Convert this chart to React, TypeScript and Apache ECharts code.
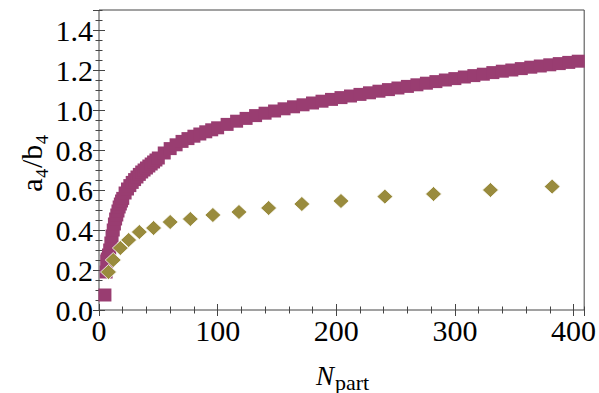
import React, { useEffect, useRef } from "react";
import * as echarts from "echarts";

// Purple squares (dense curve)
const purpleX = [5, 6, 6.5, 7, 8, 9, 10, 11, 12, 13, 14, 15, 16, 17, 18, 19, 20, 22, 24, 26, 28, 30, 32, 34, 36, 38, 40, 42, 44, 46, 48, 50, 55, 60, 65, 70, 75, 80, 85, 90, 95, 100, 108, 116, 124, 132, 140, 148, 156, 164, 172, 180, 188, 196, 204, 212, 220, 228, 236, 244, 252, 260, 268, 276, 284, 292, 300, 308, 316, 324, 332, 340, 348, 356, 364, 372, 380, 388, 396, 404];
const purpleY = [0.075, 0.19, 0.245, 0.255, 0.275, 0.3, 0.335, 0.37, 0.4, 0.43, 0.455, 0.475, 0.495, 0.515, 0.53, 0.545, 0.558, 0.585, 0.605, 0.622, 0.638, 0.652, 0.665, 0.678, 0.69, 0.7, 0.71, 0.72, 0.73, 0.74, 0.75, 0.76, 0.785, 0.807, 0.826, 0.843, 0.857, 0.869, 0.88, 0.891, 0.901, 0.911, 0.928, 0.944, 0.958, 0.972, 0.984, 0.995, 1.006, 1.016, 1.026, 1.035, 1.044, 1.053, 1.062, 1.07, 1.078, 1.086, 1.094, 1.102, 1.11, 1.118, 1.126, 1.134, 1.142, 1.15, 1.157, 1.165, 1.172, 1.179, 1.187, 1.194, 1.2, 1.207, 1.214, 1.22, 1.226, 1.232, 1.238, 1.244];

// Olive diamonds
const oliveX = [8, 12, 18, 25, 34, 46, 60, 77, 96, 118, 143, 171, 204, 241, 282, 330, 382];
const oliveY = [0.19, 0.25, 0.31, 0.35, 0.39, 0.41, 0.44, 0.455, 0.475, 0.49, 0.51, 0.53, 0.545, 0.567, 0.58, 0.6, 0.617];

const xMin = 0;
const xMax = 409;
const yMin = 0;
const yMax = 1.5;

const FONT = "'Liberation Serif', 'DejaVu Serif', serif";
const TICK = "#444";

function makeX(position: string, interval: number, len: number, labels: boolean) {
  return {
    type: "value",
    min: xMin,
    max: xMax,
    interval,
    position,
    axisLine: { show: false },
    splitLine: { show: false },
    axisTick: { show: true, inside: true, length: len, lineStyle: { color: TICK, width: 1 } },
    axisLabel: labels
      ? { show: true, showMaxLabel: false, fontFamily: FONT, fontSize: 30, color: "#000", margin: 5 }
      : { show: false },
  };
}

function makeY(position: string, interval: number, len: number, labels: boolean) {
  return {
    type: "value",
    min: yMin,
    max: yMax,
    interval,
    position,
    axisLine: { show: false },
    splitLine: { show: false },
    axisTick: { show: true, inside: true, length: len, lineStyle: { color: TICK, width: 1 } },
    axisLabel: labels
      ? {
          show: true,
          showMaxLabel: false,
          fontFamily: FONT,
          fontSize: 30,
          color: "#000",
          margin: 6,
          formatter: (v: number) => v.toFixed(1),
        }
      : { show: false },
  };
}

export default function App() {
  const ref = useRef<HTMLDivElement>(null);
  useEffect(() => {
    if (!ref.current) return;
    const chart = echarts.init(ref.current, null, { renderer: "svg" });
    const option = {
      animation: false,
      backgroundColor: "#fff",
      grid: {
        left: 99,
        right: 12,
        top: 10,
        bottom: 83,
        containLabel: false,
        show: true,
        borderColor: TICK,
        borderWidth: 1,
        backgroundColor: "transparent",
      },
      xAxis: [
        makeX("bottom", 100, 6, true),
        makeX("bottom", 20, 3.5, false),
        makeX("top", 100, 6, false),
        makeX("top", 20, 3.5, false),
      ],
      yAxis: [
        makeY("left", 0.2, 6, true),
        makeY("left", 0.05, 3.5, false),
        makeY("right", 0.2, 6, false),
        makeY("right", 0.05, 3.5, false),
      ],
      series: [
        {
          type: "scatter",
          xAxisIndex: 0,
          yAxisIndex: 0,
          symbol: "rect",
          symbolSize: 13,
          itemStyle: { color: "#993D71", opacity: 1 },
          data: purpleX.map((x, i) => [x, purpleY[i]]),
          clip: false,
        },
        {
          type: "scatter",
          xAxisIndex: 0,
          yAxisIndex: 0,
          symbol: "diamond",
          symbolSize: [16, 15],
          itemStyle: { color: "#998B3D", opacity: 1, borderColor: "#fff", borderWidth: 0.8 },
          data: oliveX.map((x, i) => [x, oliveY[i]]),
          clip: false,
        },
      ],
      graphic: [
        {
          type: "text",
          x: 31,
          y: 163,
          rotation: Math.PI / 2,
          style: {
            text: "a₄/b₄",
            fontFamily: FONT,
            fontSize: 30,
            fill: "#000",
            align: "center",
            verticalAlign: "middle",
          },
        },
        {
          type: "text",
          x: 334,
          y: 376,
          style: {
            text: "N",
            fontFamily: FONT,
            fontStyle: "italic",
            fontSize: 27,
            fill: "#000",
            align: "right",
            verticalAlign: "middle",
          },
        },
        {
          type: "text",
          x: 335,
          y: 382,
          style: {
            text: "part",
            fontFamily: FONT,
            fontSize: 22,
            fill: "#000",
            align: "left",
            verticalAlign: "middle",
          },
        },
      ],
    };
    chart.setOption(option as any);
    return () => chart.dispose();
  }, []);
  return (
    <div
      ref={ref}
      style={{ position: "fixed", left: 0, top: 0, width: 599, height: 393 }}
    />
  );
}
